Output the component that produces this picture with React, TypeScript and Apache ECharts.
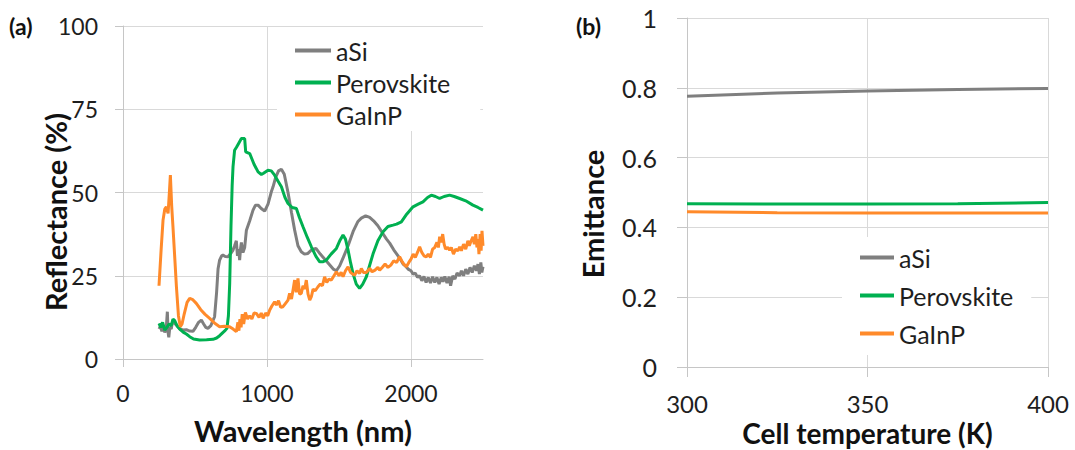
import React, { useEffect, useRef } from "react";
import * as echarts from "echarts";

// ---------- Panel (a): reflectance spectra ----------
const gainpWave = [250, 265, 278, 290, 301, 313, 322, 329, 338, 347, 360, 371, 385, 398, 410, 425, 445, 463, 485, 509, 540, 570, 602, 635, 671, 705, 740, 765, 787, 798, 805, 812, 820, 828, 838, 850, 865, 880, 895, 910, 926, 945, 960, 973, 990, 1005, 1019, 1035, 1053, 1065, 1080, 1095, 1111, 1125, 1146, 1157, 1170, 1182, 1192, 1203, 1215, 1226, 1238, 1250, 1262, 1273, 1285, 1297, 1308, 1320, 1335, 1354, 1370, 1385, 1400, 1415, 1430, 1447, 1465, 1482, 1500, 1515, 1528, 1545, 1563, 1580, 1595, 1609, 1625, 1643, 1655, 1670, 1690, 1713, 1730, 1750, 1770, 1782, 1800, 1820, 1840, 1860, 1880, 1900, 1921, 1935, 1950, 1968, 1985, 2000, 2015, 2030, 2045, 2060, 2075, 2090, 2106, 2120, 2135, 2150, 2165, 2180, 2190, 2199, 2210, 2220, 2230, 2240, 2255, 2268, 2280, 2295, 2310, 2325, 2338, 2350, 2365, 2380, 2395, 2405, 2418, 2430, 2440, 2450, 2458, 2465, 2472, 2480, 2487, 2493, 2500];
const gainpRefl = [22, 33, 41.7, 45, 45.7, 43.7, 50, 55.2, 46, 39.7, 30, 21.7, 13, 9.7, 10.5, 13.5, 17, 18.2, 17.8, 16.7, 14.8, 13.4, 12.2, 10.8, 9.7, 9.8, 9.7, 9, 8.2, 11, 8.5, 12, 9.5, 13.5, 10.5, 14, 12, 13, 12, 13.8, 13.7, 12.5, 13.8, 12.2, 13.8, 13, 14.7, 16, 17.2, 16.2, 17.5, 15.5, 15.7, 16.5, 17.7, 19.7, 18, 21, 23.7, 20, 24.2, 19.5, 19.7, 22, 21, 23.7, 19.5, 17.7, 18.7, 21, 20.5, 21.7, 22.5, 22, 24.7, 23, 24, 23.7, 25, 26.2, 25, 26, 24.7, 26.5, 27.7, 26, 25.5, 25.2, 26.5, 25.7, 27.2, 26, 26, 27.2, 26.2, 26.7, 27.5, 26.7, 27.5, 28.5, 27.5, 28.2, 29.5, 29, 30.7, 29.5, 28.5, 27.7, 29, 30, 31.5, 30.5, 32, 33.7, 32, 31, 30.7, 31.5, 30.5, 33, 33.5, 35, 33.5, 36.7, 35, 37.5, 34.5, 33, 33.5, 32.7, 33.5, 31.5, 33, 32.5, 33.7, 32.5, 34.5, 33, 35.5, 34, 35.5, 36.7, 34.5, 37.5, 33.5, 36, 31.5, 37.5, 32.5, 38.5, 34];

const asiWave = [250, 260, 270, 280, 290, 300, 308, 313, 318, 325, 335, 345, 359, 375, 395, 417, 440, 463, 486, 505, 525, 544, 560, 575, 590, 610, 636, 650, 660, 671, 685, 694, 710, 729, 745, 764, 775, 787, 795, 803, 810, 816, 822, 833, 845, 857, 880, 903, 920, 938, 960, 984, 1007, 1030, 1042, 1060, 1080, 1100, 1120, 1146, 1170, 1192, 1215, 1238, 1260, 1284, 1310, 1340, 1370, 1400, 1430, 1460, 1482, 1505, 1530, 1563, 1600, 1630, 1655, 1685, 1713, 1740, 1770, 1800, 1830, 1852, 1880, 1921, 1945, 1960, 1980, 2000, 2015, 2030, 2045, 2060, 2075, 2090, 2105, 2120, 2135, 2150, 2165, 2180, 2195, 2210, 2222, 2235, 2250, 2265, 2275, 2290, 2305, 2320, 2338, 2350, 2365, 2380, 2395, 2410, 2425, 2440, 2455, 2465, 2475, 2485, 2492, 2500];
const asiRefl = [9, 9.8, 8.3, 9.5, 8, 9, 14.2, 8, 6.5, 9.5, 9, 11.5, 10.7, 10, 9, 8.7, 8.8, 8.4, 8.3, 9.5, 11, 11.7, 10.5, 9.5, 9.2, 10, 12.7, 20, 27, 29.7, 31, 31.2, 30.8, 30.7, 31.5, 32.7, 34, 35.5, 31, 33, 29.7, 33, 35, 32, 33.5, 38.7, 41.5, 44.7, 46.2, 46.2, 45.2, 44.4, 46.5, 50.2, 51.7, 54.5, 56.5, 57, 55.5, 50, 44, 38.7, 34, 32.2, 31.5, 31.7, 32.8, 33.2, 31.5, 30, 28.5, 27, 26.5, 28, 30.5, 34, 38.5, 41.2, 42.3, 43, 42.5, 41.5, 40, 38, 36, 34.8, 32.8, 30.3, 28.5, 28, 27, 26.5, 25.5, 25.8, 24.5, 25, 23.5, 24.8, 23, 24.5, 22.8, 24.7, 23, 24.5, 22.5, 24.5, 23.2, 24.8, 22.8, 24.7, 22, 25, 24, 25.8, 25, 26.5, 25, 27, 25.5, 27.5, 26, 28, 26.5, 28.5, 25.5, 29, 26, 27.7];

const perovWave = [250, 262, 275, 290, 305, 320, 335, 347, 359, 375, 394, 420, 440, 463, 490, 532, 580, 625, 650, 671, 695, 710, 722, 732, 741, 750, 758, 764, 775, 787, 800, 822, 845, 852, 880, 910, 938, 961, 973, 1007, 1030, 1053, 1075, 1100, 1125, 1146, 1175, 1204, 1225, 1250, 1280, 1308, 1340, 1366, 1390, 1412, 1445, 1482, 1505, 1528, 1545, 1563, 1580, 1597, 1620, 1643, 1665, 1690, 1712, 1736, 1770, 1806, 1840, 1875, 1900, 1933, 1970, 2014, 2050, 2083, 2115, 2141, 2170, 2199, 2230, 2268, 2300, 2338, 2380, 2430, 2465, 2500];
const perovRefl = [10.7, 9.5, 11, 8.7, 9.5, 10.5, 10, 12, 11.5, 10, 9, 8, 7.5, 6.7, 6, 5.7, 5.8, 5.9, 6.3, 7, 8, 8.6, 9.2, 13, 22.7, 40, 52, 57.7, 62.7, 63.5, 64.5, 66.2, 66.2, 62.2, 61.7, 58.5, 56.2, 55.4, 55.7, 56.7, 56.5, 55.2, 53.5, 51.7, 48.5, 46.7, 45.5, 45.2, 42.5, 39.7, 36.5, 33.7, 30.8, 29.2, 29.2, 29.7, 31.5, 33.2, 35.5, 37.2, 36, 32.7, 29, 25.7, 22.5, 21.2, 22.5, 24.7, 28, 31.5, 35.5, 38.2, 39.8, 40.2, 40.5, 41.2, 43.5, 45.7, 46.5, 47.2, 48.5, 49.2, 48.8, 48.2, 48.8, 49.2, 48.8, 48.2, 47.5, 46.2, 45.5, 44.7];

// ---------- Panel (b): emittance vs temperature ----------
const cellTemp = [300, 325, 350, 375, 400];
const asiEmit = [0.776, 0.785, 0.791, 0.795, 0.798];
const perovEmit = [0.468, 0.467, 0.467, 0.468, 0.471];
const gainpEmit = [0.445, 0.442, 0.441, 0.441, 0.441];

const seriesNames = ["aSi", "Perovskite", "GaInP"];
const colors = ["#7f7f7f", "#00b050", "#ff8a2a"];

const FONT = "Lato";

function pairs(xs: number[], ys: number[]) {
  return xs.map((x, i) => [x, ys[i]]);
}

export default function App() {
  const ref = useRef<HTMLDivElement>(null);
  useEffect(() => {
    if (!ref.current) return;
    const chart = echarts.init(ref.current, null, { renderer: "svg" });
    const axisLineStyle = { color: "#c6c6c6", width: 1 };
    const splitStyle = { color: "#d9d9d9", width: 1 };
    const labelBase = { color: "#1e1e1e", fontFamily: FONT };
    const nameStyle = { color: "#111", fontFamily: FONT, fontWeight: "bold" as const };

    const line = (name: string, idx: number, data: number[][], axis: number) => ({
      type: "line",
      name,
      xAxisIndex: axis,
      yAxisIndex: axis,
      data,
      symbol: "none",
      smooth: false,
      lineStyle: { color: colors[idx], width: 3 },
      itemStyle: { color: colors[idx] },
      z: 3,
    });

    const legendText = { fontSize: 25, lineHeight: 24, color: "#1e1e1e", fontFamily: FONT };

    chart.setOption({
      animation: false,
      backgroundColor: "#ffffff",
      textStyle: { fontFamily: FONT },
      grid: [
        { left: 123, top: 26, width: 360, height: 333, outerBoundsMode: "none", containLabel: false },
        { left: 687, top: 18, width: 361, height: 349, outerBoundsMode: "none", containLabel: false },
      ],
      xAxis: [
        {
          type: "value",
          gridIndex: 0,
          min: 0,
          max: 2500,
          interval: 1000,
          axisLine: { show: true, lineStyle: axisLineStyle },
          axisTick: { show: true, length: 8, lineStyle: axisLineStyle, customValues: [0, 1000, 2000] },
          axisLabel: {
            ...labelBase,
            fontSize: 23,
            margin: 22,
            customValues: [0, 1000, 2000],
            formatter: (v: number) => (v === 2500 ? "" : String(v)),
          },
          splitLine: { show: true, lineStyle: splitStyle },
          name: "Wavelength (nm)",
          nameLocation: "middle",
          nameGap: 57,
          nameMoveOverlap: false,
          nameTextStyle: { ...nameStyle, fontSize: 29 },
        },
        {
          type: "value",
          gridIndex: 1,
          min: 300,
          max: 400,
          interval: 50,
          axisLine: { show: true, lineStyle: axisLineStyle },
          axisTick: { show: true, length: 10, lineStyle: axisLineStyle },
          axisLabel: { ...labelBase, fontSize: 24, lineHeight: 24, margin: 24 },
          splitLine: { show: true, lineStyle: splitStyle },
          name: "Cell temperature (K)",
          nameLocation: "middle",
          nameGap: 52,
          nameMoveOverlap: false,
          nameTextStyle: { ...nameStyle, fontSize: 28, lineHeight: 28 },
        },
      ],
      yAxis: [
        {
          type: "value",
          gridIndex: 0,
          min: 0,
          max: 100,
          interval: 25,
          axisLine: { show: true, lineStyle: axisLineStyle },
          axisTick: { show: true, length: 8, lineStyle: axisLineStyle },
          axisLabel: { ...labelBase, fontSize: 23, margin: 25 },
          splitLine: { show: true, lineStyle: splitStyle },
        },
        {
          type: "value",
          gridIndex: 1,
          min: 0,
          max: 1,
          interval: 0.2,
          axisLine: { show: true, lineStyle: axisLineStyle },
          axisTick: { show: true, length: 10, lineStyle: axisLineStyle },
          axisLabel: { ...labelBase, fontSize: 25, margin: 30 },
          splitLine: { show: true, lineStyle: splitStyle },
        },
      ],
      legend: [
        {
          orient: "vertical",
          left: 277,
          top: 27,
          padding: [11, 30, 4, 18],
          backgroundColor: "#ffffff",
          itemWidth: 36,
          itemHeight: 4,
          itemGap: 7,
          icon: "rect",
          data: seriesNames,
          selectedMode: false,
          textStyle: legendText,
          z: 2,
        },
        {
          orient: "vertical",
          left: 842,
          top: 237,
          padding: [8, 18, 9, 18],
          backgroundColor: "#ffffff",
          itemWidth: 34,
          itemHeight: 4,
          itemGap: 13,
          icon: "rect",
          data: seriesNames,
          selectedMode: false,
          textStyle: legendText,
          z: 2,
        },
      ],
      graphic: [
        { type: "text", left: 9, top: 14, style: { text: "(a)", font: `bold 23px ${FONT}`, fill: "#111" } },
        { type: "text", left: 576, top: 14, style: { text: "(b)", font: `bold 23px ${FONT}`, fill: "#111" } },
        {
          type: "text",
          x: 55,
          y: 212,
          rotation: Math.PI / 2,
          style: {
            text: "Reflectance (%)",
            font: `bold 29px ${FONT}`,
            fill: "#111",
            align: "center",
            verticalAlign: "middle",
          },
        },
        {
          type: "text",
          x: 592,
          y: 214,
          rotation: Math.PI / 2,
          style: {
            text: "Emittance",
            font: `bold 29px ${FONT}`,
            fill: "#111",
            align: "center",
            verticalAlign: "middle",
          },
        },
      ],
      series: [
        line("aSi", 0, pairs(asiWave, asiRefl), 0),
        line("Perovskite", 1, pairs(perovWave, perovRefl), 0),
        line("GaInP", 2, pairs(gainpWave, gainpRefl), 0),
        line("aSi", 0, pairs(cellTemp, asiEmit), 1),
        line("Perovskite", 1, pairs(cellTemp, perovEmit), 1),
        line("GaInP", 2, pairs(cellTemp, gainpEmit), 1),
      ],
    });
    return () => chart.dispose();
  }, []);
  return (
    <div
      ref={ref}
      style={{ position: "fixed", left: 0, top: 0, width: 1075, height: 450, background: "#fff" }}
    />
  );
}
